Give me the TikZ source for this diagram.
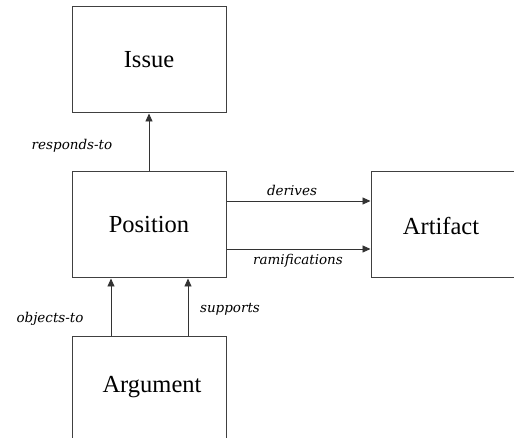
\documentclass[tikz,border=0pt]{standalone}
\usepackage{fontspec}
\setmainfont{Liberation Serif}
\newfontfamily\labelfont{DejaVu Serif}
\usetikzlibrary{arrows.meta}
\begin{document}
\begin{tikzpicture}[x=1pt,y=-1pt,
  entity/.style={draw=black!75,line width=1pt,minimum width=154pt,minimum height=106pt,
    inner sep=0pt,font=\fontsize{24.5}{28}\selectfont},
  link/.style={draw=black!80,line width=0.9pt,-{Triangle[length=8pt,width=7pt]}},
  rel/.style={font=\labelfont\itshape\fontsize{13.5}{15}\selectfont,inner sep=0pt}]
  \clip (0,0) rectangle (514,438);
  \fill[white] (0,0) rectangle (514,438);
  % entities
  \node[entity] (issue) at (149,60) {Issue};
  \node[entity] (pos) at (149,225) {Position};
  \node[entity] (art) at (448,225) {};
  \node at (441,226) [font=\fontsize{24.5}{28}\selectfont] (artlabel) {Artifact};
  \node[entity] (arg) at (149,389) {};
  \node at (152,387) [font=\fontsize{24.5}{28}\selectfont] (arglabel) {Argument};
  % heights of the two horizontal relations, offsets of the two vertical ones
  \coordinate (hd) at (0,201);
  \coordinate (hr) at (0,249);
  \coordinate (vo) at (111,0);
  \coordinate (vs) at (188,0);
  % relations
  \draw[link] (pos.north) -- (issue.south);
  \draw[link] (pos.east |- hd) -- (art.west |- hd);
  \draw[link] (pos.east |- hr) -- (art.west |- hr);
  \draw[link] (vo |- arg.north) -- (vo |- pos.south);
  \draw[link] (vs |- arg.north) -- (vs |- pos.south);
  % relation labels
  \node[rel] (l1) at (72,146) {responds-to};
  \node[rel] (l2) at (292,190) {derives};
  \node[rel] (l3) at (298,261) {ramifications};
  \node[rel] (l4) at (50,319) {objects-to};
  \node[rel] (l5) at (230,309) {supports};
\end{tikzpicture}
\end{document}
